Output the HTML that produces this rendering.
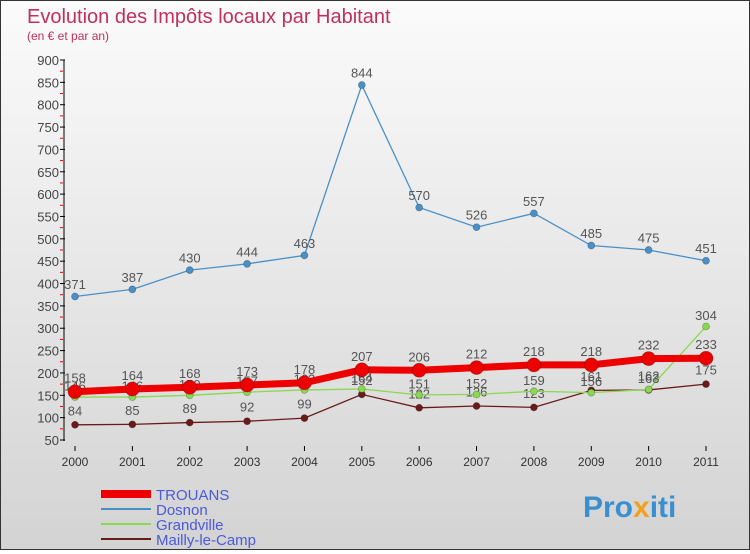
<!DOCTYPE html>
<html><head><meta charset="utf-8"><style>
html,body{margin:0;padding:0}
body{width:750px;height:550px;overflow:hidden;font-family:"Liberation Sans",sans-serif}
#wrap{position:absolute;left:0;top:0;width:748px;height:548px;border:1px solid #333;background:linear-gradient(#fbfbfb,#d3d3d3)}
</style></head><body>
<div id="wrap">
<svg id="chart" width="748" height="548">
<text x="26" y="22" font-size="20" fill="#c0305a">Evolution des Impôts locaux par Habitant</text>
<text x="26" y="39" font-size="12" fill="#c0305a">(en € et par an)</text>
<g id="axes"></g><g id="series"></g><g id="legend"></g>
<text x="582" y="516" font-size="30" font-weight="bold" fill="#3a8fd0">Pro<tspan fill="#f0a020">x</tspan><tspan fill="#3a8fd0">iti</tspan></text>
</svg></div>
<script>
const years=["2000","2001","2002","2003","2004","2005","2006","2007","2008","2009","2010","2011"];
const yTicks=[50,100,150,200,250,300,350,400,450,500,550,600,650,700,750,800,850,900];
const trouans=[158,164,168,173,178,207,206,212,218,218,232,233];
const dosnon=[371,387,430,444,463,844,570,526,557,485,475,451];
const grandville=[146,146,150,157,162,164,151,152,159,156,163,304];
const mailly=[84,85,89,92,99,152,122,126,123,161,162,175];
const NS="http://www.w3.org/2000/svg";
const X=i=>74+i*(705-74)/11;
const Y=v=>439-(v-50)*(439-59)/850;
function mk(t,a,p){const e=document.createElementNS(NS,t);for(const k in a)e.setAttribute(k,a[k]);p.appendChild(e);return e;}
const ax=document.getElementById('axes');
const yl=mk('line',{x1:63,y1:59,x2:63,y2:440,stroke:'#000'},ax);


yTicks.forEach((v,k)=>{
 mk('line',{x1:59,y1:Y(v),x2:64,y2:Y(v),stroke:'#000'},ax);
 if(k<yTicks.length-1)mk('line',{x1:59,y1:Y(v+25),x2:62,y2:Y(v+25),stroke:'#e00'},ax);
 const t=mk('text',{x:58,y:Y(v)+5,'font-size':13,'text-anchor':'end',fill:'#444'},ax);t.textContent=v;
 
 
});
years.forEach((y,i)=>{
 mk('line',{x1:X(i),y1:445,x2:X(i),y2:450,stroke:'#000'},ax);
 const t=mk('text',{x:X(i),y:465,'font-size':12,'text-anchor':'middle',fill:'#333'},ax);t.textContent=y;
 
 
});
const sg=document.getElementById('series');
function draw(data,color,w,r,name,lab){
 const g=mk('g',{},sg);
 
 
 mk('polyline',{points:data.map((v,i)=>X(i)+','+Y(v)).join(' '),fill:'none',stroke:color,'stroke-width':w},g);
 data.forEach((v,i)=>{
  const c=mk('circle',{cx:X(i),cy:Y(v),r:r,fill:color,stroke:'rgba(0,0,0,0.3)','stroke-width':0.7},g);
  
  
  const t=mk('text',{x:X(i),y:Y(v)-r-(lab||4),'font-size':13,'text-anchor':'middle',fill:'#555'},g);t.textContent=v;
 });
}
draw(dosnon,'#4a90c8',1.3,3.5,'dosnon-series',4);
draw(mailly,'#6b1a1a',1.3,3.5,'mailly-series',6);
draw(grandville,'#88d850',1.3,3.5,'grandville-series',3);
draw(trouans,'#ee0000',7,7,'trouans-series',2);
const lg=document.getElementById('legend');
const items=[['TROUANS','#ee0000',8],['Dosnon','#4a90c8',2],['Grandville','#88d850',2],['Mailly-le-Camp','#6b1a1a',2]];
items.forEach((it,k)=>{
 const yy=493+k*15;
 const g=mk('g',{},lg);
 
 
 mk('line',{x1:100,y1:yy,x2:150,y2:yy,stroke:it[1],'stroke-width':it[2]},g);
 const t=mk('text',{x:155,y:yy+6,'font-size':15,fill:'#4a5ad8'},g);t.textContent=it[0];
});
</script>
</body></html>
